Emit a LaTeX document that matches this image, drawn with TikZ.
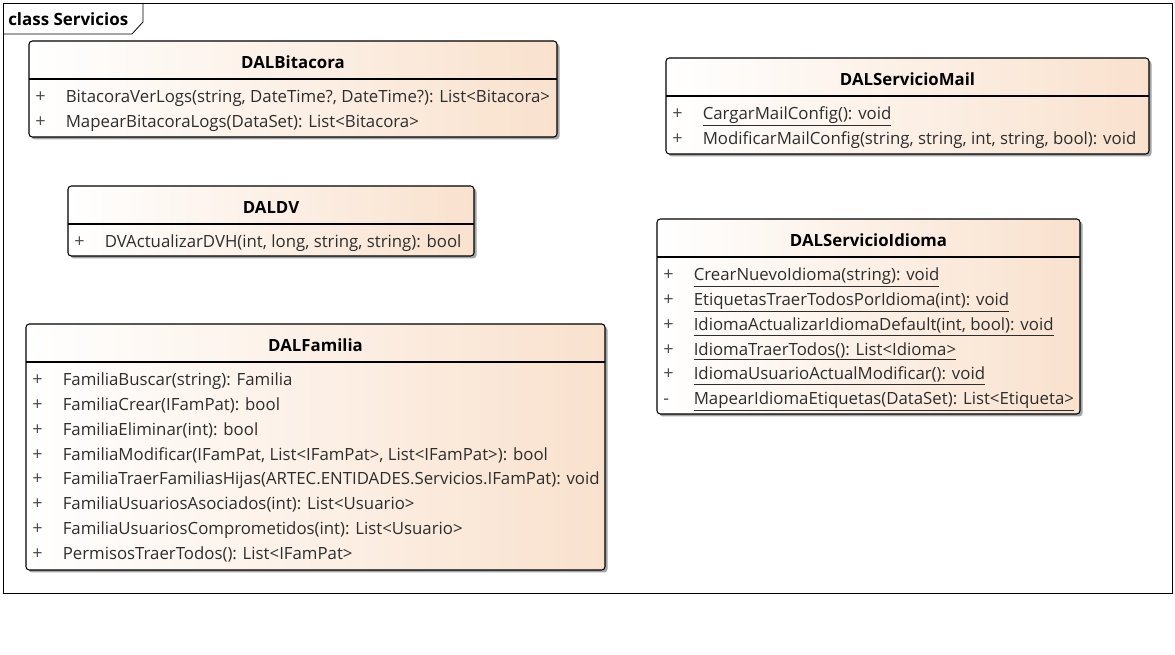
\documentclass[tikz,border=0pt]{standalone}
\usepackage{fontspec}
\setmainfont{Open Sans}
\definecolor{peach}{RGB}{249,225,205}
\definecolor{shadowc}{RGB}{165,165,165}
\definecolor{rowc}{RGB}{45,45,45}
\tikzset{
  boxshape/.style={draw=black, line width=0.8pt, rounded corners=2.5pt, left color=white, right color=peach, inner sep=0pt, outer sep=0pt},
  shadowshape/.style={fill=shadowc, rounded corners=2.5pt},
  divider/.style={draw=black, line width=0.8pt},
  titletext/.style={font=\fontsize{12.6}{15}\selectfont\bfseries, inner sep=0pt, anchor=center, text=black},
  rowtext/.style={font=\fontsize{12.6}{15}\selectfont, inner sep=0pt, anchor=base west, text=rowc},
  signtext/.style={font=\fontsize{13.5}{15}\selectfont, inner sep=0pt, anchor=base west, text=rowc!85},
  framestyle/.style={draw=black, line width=0.6pt},
  framelabel/.style={font=\fontsize{12.7}{15}\selectfont\bfseries, inner sep=0pt, anchor=west, text=black}
}
\newcommand\umlbox[7]{%
  \fill[shadowshape] (#2+2.5,#3+2.5) rectangle (#4+2.5,#5+2.5);
  \node[boxshape, anchor=north west, minimum width={(#4-#2)*0.75pt}, minimum height={(#5-#3)*0.75pt}] (#1) at (#2,#3) {};
  \draw[divider] (#2,#6) -- (#4,#6);
  \node[titletext] (#1-t) at ({(#2+#4)/2},{(#3+#6)/2+2.5}) {#7};
}
\newcommand\umlrows[4]{%
  \foreach \s/\t [count=\i] in {#4} {
    \node[signtext] (#1-s\i) at (#2+6,{#3+23.7+(\i-1)*24.8}) {\s};
    \node[rowtext] (#1-r\i) at (#2+36.5,{#3+23.7+(\i-1)*24.8}) {\t};
  }%
}
\begin{document}
\begin{tikzpicture}[x=0.75pt,y=-0.75pt]
\useasboundingbox (0,0) rectangle (1175,655);
\fill[white] (0,0) rectangle (1175,655);
% frame
\node[framestyle, anchor=north west, minimum width={1169*0.75pt}, minimum height={590*0.75pt}, inner sep=0pt, outer sep=0pt] (frame) at (3,3) {};
\draw[framestyle] (3,34) -- (132,34) -- (143,22) -- (143,3);
\node[framelabel] (framelbl) at (8,19.5) {class Servicios};

% DALBitacora
\umlbox{bit}{29}{41}{557}{137}{79}{DALBitacora}
\umlrows{bit}{29}{79}{+/{BitacoraVerLogs(string, DateTime?, DateTime?): List<Bitacora>},+/{MapearBitacoraLogs(DataSet): List<Bitacora>}}

% DALServicioMail
\umlbox{mail}{666}{58}{1149}{154}{96}{DALServicioMail}
\umlrows{mail}{666}{96}{+/{\underline{CargarMailConfig(): void}},+/{ModificarMailConfig(string, string, int, string, bool): void}}

% DALDV
\umlbox{dv}{68}{186}{474}{256}{224}{DALDV}
\umlrows{dv}{68}{224}{+/{DVActualizarDVH(int, long, string, string): bool}}

% DALServicioIdioma
\umlbox{idi}{657}{219}{1080}{414}{257}{DALServicioIdioma}
\umlrows{idi}{657}{257}{+/{\underline{CrearNuevoIdioma(string): void}},+/{\underline{EtiquetasTraerTodosPorIdioma(int): void}},+/{\underline{IdiomaActualizarIdiomaDefault(int, bool): void}},+/{\underline{IdiomaTraerTodos(): List<Idioma>}},+/{\underline{IdiomaUsuarioActualModificar(): void}},-/{\underline{MapearIdiomaEtiquetas(DataSet): List<Etiqueta>}}}

% DALFamilia
\umlbox{fam}{26}{324}{605}{570}{362}{DALFamilia}
\umlrows{fam}{26}{362}{+/{FamiliaBuscar(string): Familia},+/{FamiliaCrear(IFamPat): bool},+/{FamiliaEliminar(int): bool},+/{FamiliaModificar(IFamPat, List<IFamPat>, List<IFamPat>): bool},+/{FamiliaTraerFamiliasHijas(ARTEC.ENTIDADES.Servicios.IFamPat): void},+/{FamiliaUsuariosAsociados(int): List<Usuario>},+/{FamiliaUsuariosComprometidos(int): List<Usuario>},+/{PermisosTraerTodos(): List<IFamPat>}}
\end{tikzpicture}
\end{document}
